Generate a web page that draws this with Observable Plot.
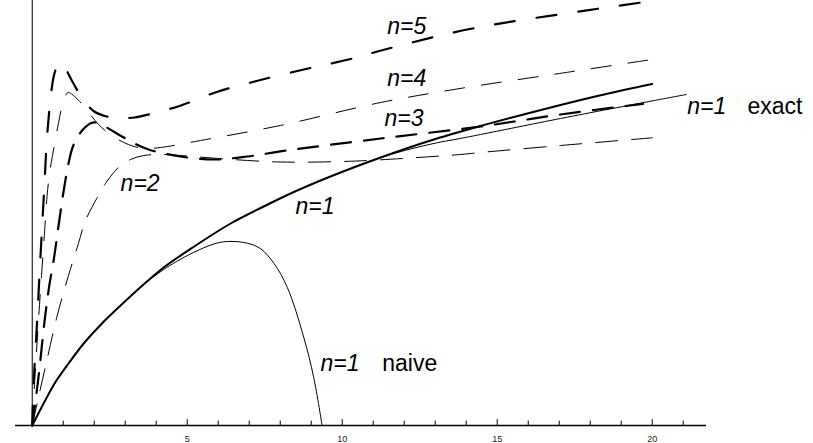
<!DOCTYPE html>
<html>
<head>
<meta charset="utf-8">
<script src="https://cdn.jsdelivr.net/npm/d3@7"></script>
<script src="https://cdn.jsdelivr.net/npm/@observablehq/plot@0.6"></script>
<style>
  html, body { margin: 0; padding: 0; background: #fff; }
  #chart svg { display: block; background: #fff; }
</style>
</head>
<body>
<div id="chart"></div>
<script>
// ---- data (y in arbitrary units) ----
const n1X = [0, 0.4, 0.74, 1.17, 1.66, 2.25, 2.85, 3.5, 4.24, 5.2, 6.4, 7.4, 8.44, 9.62, 11.24, 12.8, 14.46, 16.6, 18.3, 20];
const n1Y = [0, 0.24, 0.43, 0.62, 0.82, 1.02, 1.20, 1.385, 1.58, 1.785, 2.02, 2.18, 2.335, 2.49, 2.68, 2.845, 2.995, 3.17, 3.30, 3.415];

const exactX = [0, 0.4, 0.74, 1.17, 1.66, 2.25, 2.85, 3.5, 4.24, 5.2, 6.4, 7.4, 8.44, 9.62, 11.24, 12.8, 13.8, 14.46, 17.04, 20.07, 21.1];
const exactY = [0, 0.24, 0.43, 0.62, 0.82, 1.02, 1.20, 1.385, 1.58, 1.785, 2.02, 2.18, 2.335, 2.49, 2.68, 2.81, 2.87, 2.91, 3.07, 3.25, 3.31];

const naiveX = [0, 0.4, 0.74, 1.17, 1.66, 2.25, 2.85, 3.5, 4.24, 4.8, 5.2, 5.86, 6.29, 6.94, 7.37, 7.8, 8.23, 8.76, 9.08, 9.35];
const naiveY = [0, 0.24, 0.43, 0.62, 0.82, 1.02, 1.20, 1.385, 1.56, 1.665, 1.73, 1.815, 1.84, 1.823, 1.767, 1.62, 1.38, 0.88, 0.48, 0];

const n2X = [0, 0.2, 0.5, 0.79, 1.17, 1.49, 1.72, 2.08, 2.36, 2.63, 2.85, 3.17, 3.6, 4.2, 4.78, 6, 8, 10, 11.24, 13.81, 14.46, 17.04, 20];
const n2Y = [0, 0.28, 0.69, 1.08, 1.50, 1.82, 2.05, 2.27, 2.42, 2.53, 2.60, 2.66, 2.70, 2.71, 2.70, 2.67, 2.635, 2.64, 2.657, 2.71, 2.73, 2.80, 2.877];

const n3X = [0, 0.2, 0.4, 0.55, 0.69, 0.85, 1.0, 1.17, 1.3, 1.49, 1.7, 1.9, 2.05, 2.4, 2.84, 3.3, 3.75, 4.78, 5.86, 6.94, 8.2, 11.24, 14.46, 17.04, 19.7];
const n3Y = [0, 0.48, 1.05, 1.40, 1.65, 2.00, 2.32, 2.62, 2.78, 2.90, 2.98, 3.025, 3.03, 2.98, 2.90, 2.82, 2.76, 2.69, 2.66, 2.69, 2.75, 2.87, 2.99, 3.11, 3.217];

const n4X = [0, 0.08, 0.2, 0.3, 0.4, 0.48, 0.57, 0.655, 0.75, 0.85, 0.95, 1.05, 1.15, 1.27, 1.5, 1.72, 2.14, 2.56, 3.1, 3.6, 4.14, 5.43, 8, 11.24, 13.8, 17.0, 20];
const n4Y = [0, 0.45, 1.05, 1.50, 1.95, 2.30, 2.55, 2.70, 2.87, 3.03, 3.18, 3.28, 3.33, 3.315, 3.25, 3.17, 3.01, 2.90, 2.81, 2.77, 2.78, 2.85, 3.00, 3.23, 3.37, 3.52, 3.66];

const n5X = [0, 0.05, 0.15, 0.25, 0.33, 0.4, 0.47, 0.53, 0.6, 0.7, 0.8, 0.91, 1.05, 1.33, 1.66, 2.0, 2.4, 2.8, 3.3, 4.0, 4.8, 5.9, 7.3, 8.9, 10.2, 11.5, 14.2, 18.3, 20];
const n5Y = [0, 0.45, 1.00, 1.60, 2.05, 2.45, 2.85, 3.08, 3.30, 3.50, 3.59, 3.63, 3.58, 3.42, 3.25, 3.14, 3.09, 3.075, 3.08, 3.13, 3.20, 3.33, 3.45, 3.57, 3.66, 3.77, 3.97, 4.17, 4.245];

// axis ticks and labels
const minorTicks = d3.range(1, 22);
const majorTicks = [5, 10, 15, 20];
const tickLabels = ["5", "10", "15", "20"];

// curve labels
const labelText = ["n=5", "n=4", "n=3", "n=2", "n=1", "n=1", "n=1"];
const labelX    = [11.45, 11.45, 11.36, 2.85, 8.49, 21.13, 9.30];
const labelY    = [3.92, 3.40, 3.00, 2.35, 2.117, 3.117, 0.55];
const wordText  = ["exact", "naive"];
const wordX     = [23.07, 11.29];
const wordY     = [3.117, 0.55];

// ---- build tables ----
const zip = (xs, ys) => xs.map((x, i) => ({x, y: ys[i]}));
const labels = labelText.map((t, i) => ({t, x: labelX[i], y: labelY[i]}));
const words = wordText.map((t, i) => ({t, x: wordX[i], y: wordY[i]}));
const ticks = minorTicks.map(v => ({v, major: majorTicks.includes(v)}));

const font = "'Liberation Sans', Arial, sans-serif";
const lineOpts = {x: "x", y: "y", stroke: "black", curve: "catmull-rom"};

const chart = Plot.plot({
  width: 813,
  height: 443,
  marginLeft: 15,
  marginRight: 107,
  marginTop: 0,
  marginBottom: 18,
  style: {fontFamily: font, background: "#fff", overflow: "visible"},
  x: {domain: [-0.54, 21.75], axis: null},
  y: {domain: [0, 4.25], axis: null},
  marks: [
    // axes
    Plot.ruleY([0], {stroke: "black", strokeWidth: 1.3}),
    Plot.ruleX([0], {stroke: "black", strokeWidth: 1}),
    Plot.ruleX(ticks, {x: "v", y1: 0, y2: d => d.major ? 0.058 : 0.044, stroke: "black", strokeWidth: 1}),
    Plot.text(majorTicks, {x: d => d, y: 0, text: (d, i) => tickLabels[i], dy: 16.5, lineAnchor: "bottom", fontSize: 9, fill: "#222"}),
    // curves
    Plot.line(zip(naiveX, naiveY), {...lineOpts, strokeWidth: 1}),
    Plot.line(zip(exactX, exactY), {...lineOpts, strokeWidth: 1}),
    Plot.line(zip(n1X, n1Y), {...lineOpts, strokeWidth: 2}),
    Plot.line(zip(n2X, n2Y), {...lineOpts, strokeWidth: 1, strokeDasharray: "22,14"}),
    Plot.line(zip(n4X, n4Y), {...lineOpts, strokeWidth: 1, strokeDasharray: "20,17"}),
    Plot.line(zip(n3X, n3Y), {...lineOpts, strokeWidth: 2.2, strokeDasharray: "20,13"}),
    Plot.line(zip(n5X, n5Y), {...lineOpts, strokeWidth: 2.2, strokeDasharray: "20,22"}),
    // labels
    Plot.text(labels, {x: "x", y: "y", text: "t", textAnchor: "start", lineAnchor: "bottom", fontSize: 23, fontStyle: "italic", fill: "black"}),
    Plot.text(words, {x: "x", y: "y", text: "t", textAnchor: "start", lineAnchor: "bottom", fontSize: 23, fill: "black"})
  ]
});
document.getElementById("chart").appendChild(chart);
</script>
</body>
</html>
